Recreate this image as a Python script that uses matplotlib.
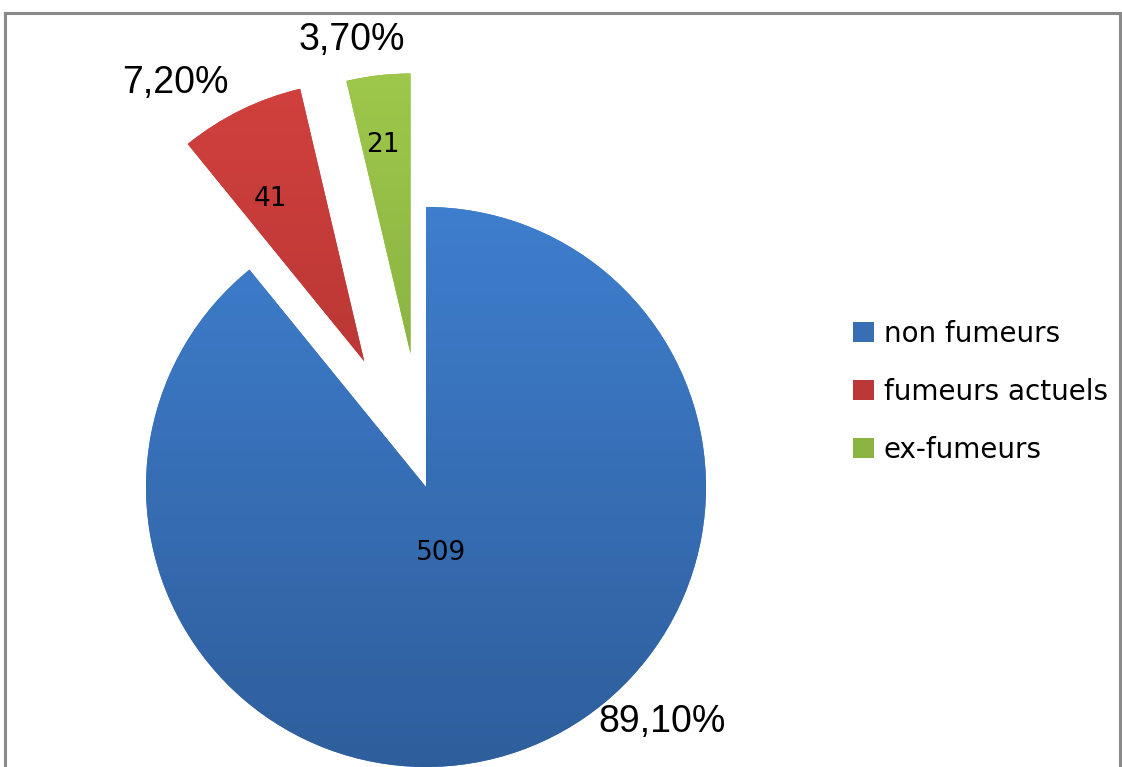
import matplotlib.pyplot as plt
import matplotlib.colors as mcolors
import numpy as np
from matplotlib.patches import Rectangle

labels = ["non fumeurs", "fumeurs actuels", "ex-fumeurs"]
counts = [509, 41, 21]
pcts = ["89,10%", "7,20%", "3,70%"]

# top / bottom colours of the vertical gradient in each slice
top_cols = ["#3f7fcf", "#d2413e", "#9ec94b"]
bot_cols = ["#2e5d9a", "#a52e2d", "#7a9f3b"]
explode = [0, 0.5, 0.48]

W, H = 1122, 767
cx, cy, R = 426, 487, 280  # pie centre / radius in pixels

fig = plt.figure(figsize=(W / 100, H / 100), dpi=100)
ax = fig.add_axes([0, 0, 1, 1])

wedges, _ = ax.pie(counts, explode=explode, startangle=90, counterclock=False,
                   colors=[mcolors.to_hex(np.mean([mcolors.to_rgb(a), mcolors.to_rgb(b)], axis=0))
                           for a, b in zip(top_cols, bot_cols)],
                   radius=1, center=(0, 0), frame=True)

ax.set_xlim(-cx / R, (W - cx) / R)
ax.set_ylim(-(H - cy) / R, cy / R)
ax.set_aspect("auto")
ax.axis("off")

# gradient fill clipped to each wedge
for w, c0, c1 in zip(wedges, top_cols, bot_cols):
    cmap = mcolors.LinearSegmentedColormap.from_list("g", [c1, c0])
    x0, y0 = w.center
    grad = np.linspace(0, 1, 256).reshape(-1, 1)
    im = ax.imshow(grad, cmap=cmap, origin="lower", aspect="auto",
                   extent=[x0 - 1.05, x0 + 1.05, y0 - 1.05, y0 + 1.05], zorder=2)
    im.set_clip_path(w)
    w.set_zorder(1)

# count labels inside the slices and percentages outside
in_dist = [0.24, 0.67, 0.75]
in_tweak = [-7, 4, 1]
out_dist = [1.19, 1.2, 1.14]
out_tweak = [25.6, 8, 4]
for i, w in enumerate(wedges):
    mid = (w.theta1 + w.theta2) / 2
    x0, y0 = w.center
    a = np.deg2rad(mid + in_tweak[i])
    ax.text(x0 + in_dist[i] * np.cos(a), y0 + in_dist[i] * np.sin(a), str(counts[i]),
            ha="center", va="center", fontsize=19, family=["DejaVu Sans"],
            zorder=5)
    a = np.deg2rad(mid + out_tweak[i])
    ax.text(x0 + out_dist[i] * np.cos(a), y0 + out_dist[i] * np.sin(a), pcts[i],
            ha="center", va="center", fontsize=27,
            family=["Liberation Sans", "DejaVu Sans"], zorder=5)

leg = ax.legend(wedges, labels, loc="center left", bbox_to_anchor=(853 / W, 1 - 392 / H),
                bbox_transform=fig.transFigure, frameon=False, fontsize=20,
                handlelength=0.75, handleheight=0.75, handletextpad=0.35,
                labelspacing=1.08, borderpad=0, borderaxespad=0)

# outer chart frame
fig.patches.append(Rectangle((5 / W, -0.01), (1120 - 5) / W, 1 - 13 / H + 0.01,
                             transform=fig.transFigure, fill=False,
                             edgecolor="#8a8a8a", linewidth=2.2))

fig.savefig("out.png", dpi=100)
